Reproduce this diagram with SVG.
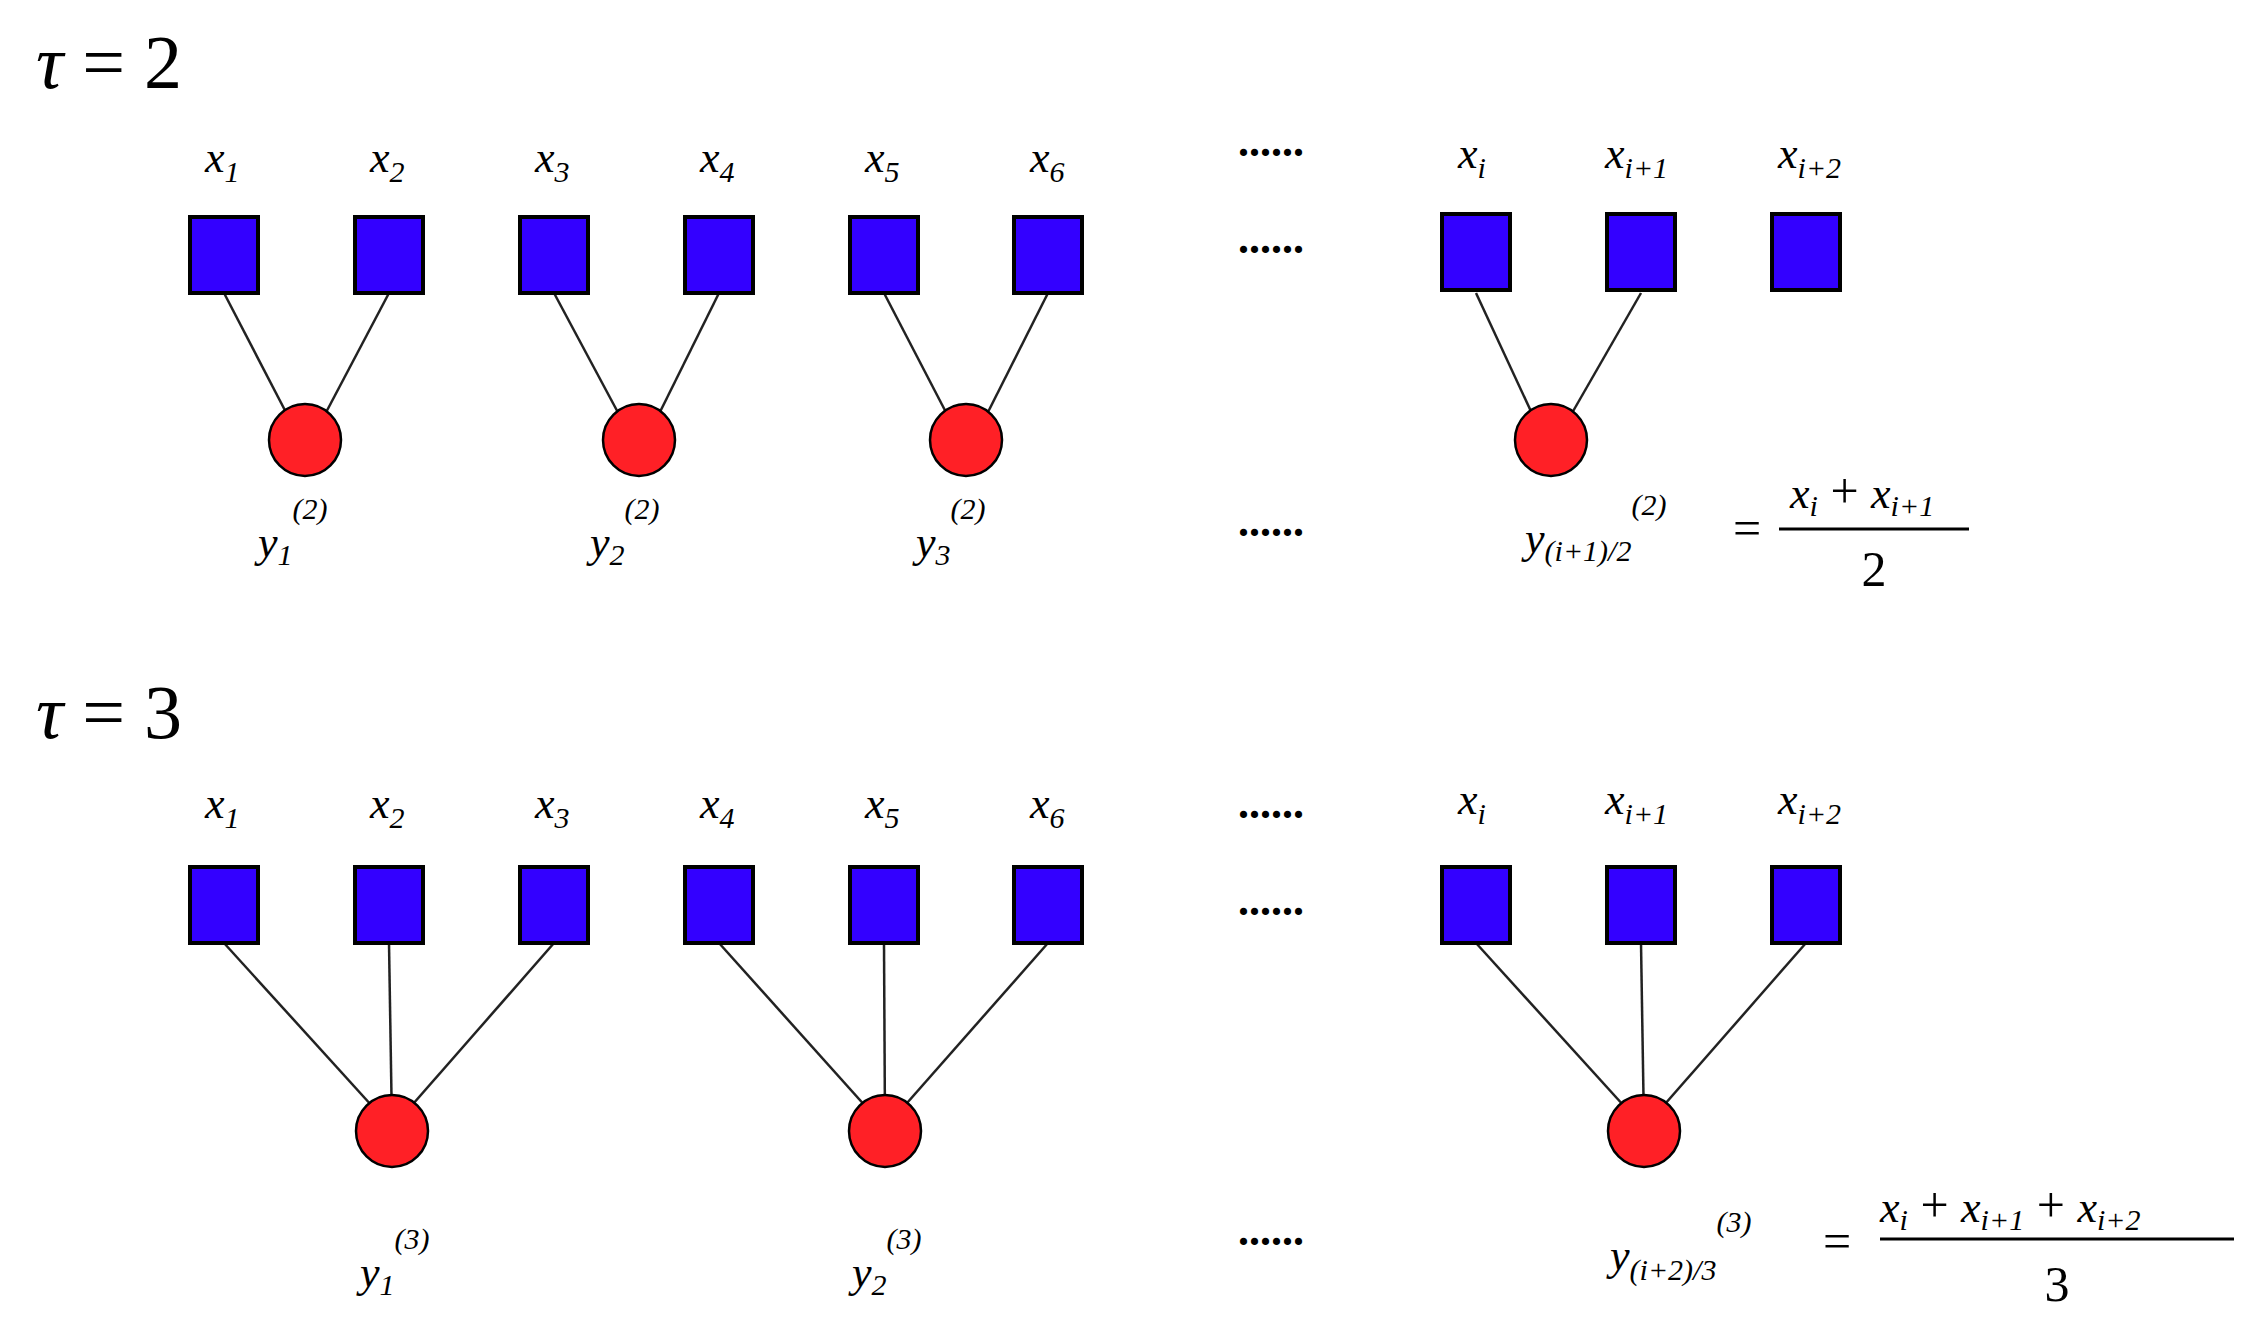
<svg xmlns="http://www.w3.org/2000/svg" width="2244" height="1326" viewBox="0 0 2244 1326">
<style>
.sq{fill:#3300ff;stroke:#000;stroke-width:4}
.ci{fill:#ff2026;stroke:#000;stroke-width:2.5}
.ln{stroke:#222;stroke-width:2.5}
text{font-family:"Liberation Serif",serif;fill:#000}
.v{font-style:italic;font-size:44px}
.s{font-size:30px}
.si{font-size:30px;font-style:italic}
.big{font-size:76px}
.d{font-size:44px;font-weight:bold}
.m{font-size:50px}
</style>
<rect width="2244" height="1326" fill="#fff"/>
<text x="36" y="88" class="big"><tspan font-style="italic">τ</tspan> = 2</text>
<text x="36" y="738" class="big"><tspan font-style="italic">τ</tspan> = 3</text>
<g id="connectors">
<line class="ln" x1="224" y1="293" x2="290" y2="420"/><line class="ln" x1="389" y1="293" x2="322" y2="420"/>
<line class="ln" x1="554" y1="293" x2="622" y2="420"/><line class="ln" x1="719" y1="293" x2="656" y2="420"/>
<line class="ln" x1="884" y1="293" x2="950" y2="420"/><line class="ln" x1="1048" y1="293" x2="984" y2="420"/>
<line class="ln" x1="1476" y1="293" x2="1535" y2="420"/><line class="ln" x1="1641" y1="293" x2="1568" y2="420"/>
<line class="ln" x1="224" y1="943" x2="392" y2="1128"/><line class="ln" x1="389" y1="943" x2="392" y2="1128"/><line class="ln" x1="554" y1="943" x2="392" y2="1128"/>
<line class="ln" x1="719" y1="943" x2="885" y2="1128"/><line class="ln" x1="884" y1="943" x2="885" y2="1128"/><line class="ln" x1="1048" y1="943" x2="885" y2="1128"/>
<line class="ln" x1="1476" y1="943" x2="1644" y2="1128"/><line class="ln" x1="1641" y1="943" x2="1644" y2="1128"/><line class="ln" x1="1806" y1="943" x2="1644" y2="1128"/>
</g>
<g id="row1-squares">
<rect class="sq" x="190" y="217" width="68" height="76"/><rect class="sq" x="355" y="217" width="68" height="76"/>
<rect class="sq" x="520" y="217" width="68" height="76"/><rect class="sq" x="685" y="217" width="68" height="76"/>
<rect class="sq" x="850" y="217" width="68" height="76"/><rect class="sq" x="1014" y="217" width="68" height="76"/>
<rect class="sq" x="1442" y="214" width="68" height="76"/><rect class="sq" x="1607" y="214" width="68" height="76"/><rect class="sq" x="1772" y="214" width="68" height="76"/>
</g>
<g id="row1-circles">
<circle class="ci" cx="305" cy="440" r="36"/><circle class="ci" cx="639" cy="440" r="36"/>
<circle class="ci" cx="966" cy="440" r="36"/><circle class="ci" cx="1551" cy="440" r="36"/>
</g>
<g id="row1-labels">
<text x="205" y="172" class="v">x<tspan class="s" dy="10">1</tspan></text>
<text x="370" y="172" class="v">x<tspan class="s" dy="10">2</tspan></text>
<text x="535" y="172" class="v">x<tspan class="s" dy="10">3</tspan></text>
<text x="700" y="172" class="v">x<tspan class="s" dy="10">4</tspan></text>
<text x="865" y="172" class="v">x<tspan class="s" dy="10">5</tspan></text>
<text x="1030" y="172" class="v">x<tspan class="s" dy="10">6</tspan></text>
<text x="1458" y="168" class="v">x<tspan class="si" dy="10">i</tspan></text>
<text x="1605" y="168" class="v">x<tspan class="si" dy="10">i</tspan><tspan class="s">+1</tspan></text>
<text x="1778" y="168" class="v">x<tspan class="si" dy="10">i</tspan><tspan class="s">+2</tspan></text>
<text x="258" y="557" class="v">y<tspan class="s" dy="8">1</tspan><tspan class="s" dy="-46">(2)</tspan></text>
<text x="590" y="557" class="v">y<tspan class="s" dy="8">2</tspan><tspan class="s" dy="-46">(2)</tspan></text>
<text x="916" y="557" class="v">y<tspan class="s" dy="8">3</tspan><tspan class="s" dy="-46">(2)</tspan></text>
<text x="1525" y="553" class="v">y<tspan class="s" dy="8">(<tspan font-style="italic">i</tspan>+1)/2</tspan><tspan class="s" dy="-46">(2)</tspan></text>
<text x="1733" y="545" class="m">=</text>
<text x="1790" y="508" class="v">x<tspan class="si" dy="8">i</tspan><tspan class="m" dy="-8" font-style="normal"> + </tspan>x<tspan class="si" dy="8">i</tspan><tspan class="s">+1</tspan></text>
<line x1="1779" y1="529" x2="1969" y2="529" stroke="#000" stroke-width="3"/>
<text x="1874" y="586" class="m" text-anchor="middle">2</text>
</g>
<g id="dots">
<text x="1271" y="156" class="d" text-anchor="middle">......</text>
<text x="1271" y="253" class="d" text-anchor="middle">......</text>
<text x="1271" y="536" class="d" text-anchor="middle">......</text>
<text x="1271" y="818" class="d" text-anchor="middle">......</text>
<text x="1271" y="915" class="d" text-anchor="middle">......</text>
<text x="1271" y="1245" class="d" text-anchor="middle">......</text>
</g>
<g id="row2-squares">
<rect class="sq" x="190" y="867" width="68" height="76"/><rect class="sq" x="355" y="867" width="68" height="76"/><rect class="sq" x="520" y="867" width="68" height="76"/>
<rect class="sq" x="685" y="867" width="68" height="76"/><rect class="sq" x="850" y="867" width="68" height="76"/><rect class="sq" x="1014" y="867" width="68" height="76"/>
<rect class="sq" x="1442" y="867" width="68" height="76"/><rect class="sq" x="1607" y="867" width="68" height="76"/><rect class="sq" x="1772" y="867" width="68" height="76"/>
</g>
<g id="row2-circles">
<circle class="ci" cx="392" cy="1131" r="36"/><circle class="ci" cx="885" cy="1131" r="36"/><circle class="ci" cx="1644" cy="1131" r="36"/>
</g>
<g id="row2-labels">
<text x="205" y="818" class="v">x<tspan class="s" dy="10">1</tspan></text>
<text x="370" y="818" class="v">x<tspan class="s" dy="10">2</tspan></text>
<text x="535" y="818" class="v">x<tspan class="s" dy="10">3</tspan></text>
<text x="700" y="818" class="v">x<tspan class="s" dy="10">4</tspan></text>
<text x="865" y="818" class="v">x<tspan class="s" dy="10">5</tspan></text>
<text x="1030" y="818" class="v">x<tspan class="s" dy="10">6</tspan></text>
<text x="1458" y="814" class="v">x<tspan class="si" dy="10">i</tspan></text>
<text x="1605" y="814" class="v">x<tspan class="si" dy="10">i</tspan><tspan class="s">+1</tspan></text>
<text x="1778" y="814" class="v">x<tspan class="si" dy="10">i</tspan><tspan class="s">+2</tspan></text>
<text x="360" y="1287" class="v">y<tspan class="s" dy="8">1</tspan><tspan class="s" dy="-46">(3)</tspan></text>
<text x="852" y="1287" class="v">y<tspan class="s" dy="8">2</tspan><tspan class="s" dy="-46">(3)</tspan></text>
<text x="1610" y="1270" class="v">y<tspan class="s" dy="10">(<tspan font-style="italic">i</tspan>+2)/3</tspan><tspan class="s" dy="-48">(3)</tspan></text>
<text x="1823" y="1258" class="m">=</text>
<text x="1880" y="1222" class="v">x<tspan class="si" dy="8">i</tspan><tspan class="m" dy="-8" font-style="normal"> + </tspan>x<tspan class="si" dy="8">i</tspan><tspan class="s">+1</tspan><tspan class="m" dy="-8" font-style="normal"> + </tspan>x<tspan class="si" dy="8">i</tspan><tspan class="s">+2</tspan></text>
<line x1="1880" y1="1239" x2="2234" y2="1239" stroke="#000" stroke-width="3"/>
<text x="2057" y="1301" class="m" text-anchor="middle">3</text>
</g>
</svg>
